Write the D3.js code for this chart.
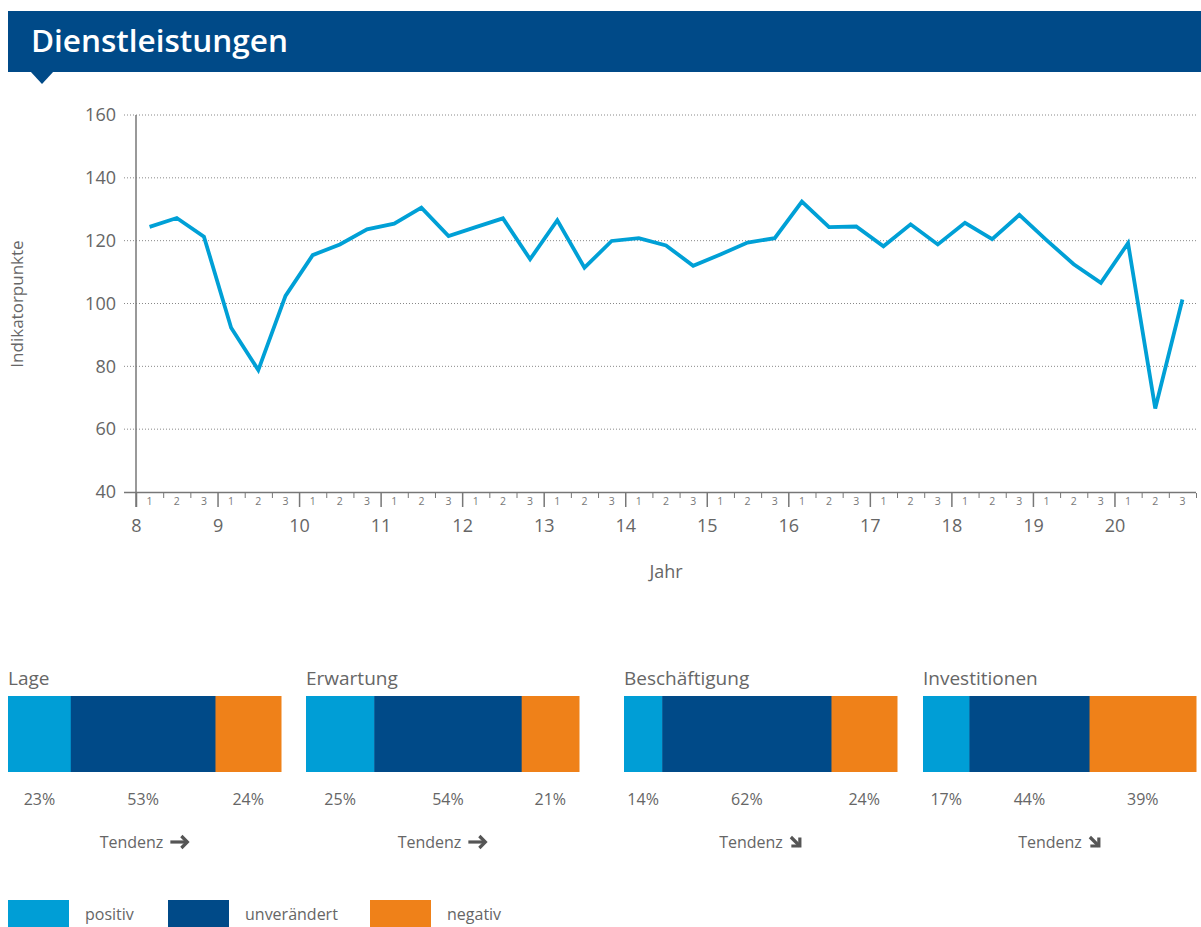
<!DOCTYPE html>
<html>
<head>
<meta charset="utf-8">
<script src="https://cdn.jsdelivr.net/npm/d3@7"></script>
<style>
  body { margin: 0; background: #fff; }
  text { font-family: "Open Sans", sans-serif; fill: #666; }
</style>
</head>
<body>
<div id="chart"></div>
<script>
// Werte
var years = [8, 9, 10, 11, 12, 13, 14, 15, 16, 17, 18, 19, 20];
var periods = ["1", "2", "3"];
var yTicks = [40, 60, 80, 100, 120, 140, 160];
var indexValues = [
  124.4, 127.2, 121.3,
  92.3, 78.8, 102.4,
  115.4, 118.8, 123.6,
  125.4, 130.5, 121.5,
  124.3, 127.1, 114.1,
  126.5, 111.4, 119.9,
  120.8, 118.5, 112.0,
  115.6, 119.4, 120.8,
  132.4, 124.3, 124.5,
  118.2, 125.2, 118.8,
  125.7, 120.5, 128.2,
  120.2, 112.5, 106.6,
  119.2, 66.6, 101.3
];
var surveyNames = ["Lage", "Erwartung", "Beschäftigung", "Investitionen"];
var positive = [23, 25, 14, 17];
var unchanged = [53, 54, 62, 44];
var negative = [24, 21, 24, 39];
var trend = ["right", "right", "down", "down"];
var legendLabels = ["positiv", "unverändert", "negativ"];

var colPos = "#009ed6", colNeu = "#004a88", colNeg = "#ef8119", lineCol = "#00a0d6";

var svg = d3.select("#chart").append("svg").attr("width", 1201).attr("height", 927);

// Kopfzeile
svg.append("rect").attr("x", 8).attr("y", 11).attr("width", 1193).attr("height", 61).attr("fill", "#004a88");
svg.append("path").attr("d", "M30,71L54,71L42,84Z").attr("fill", "#004a88");
svg.append("text").attr("x", 31).attr("y", 52).style("fill", "#fff").style("font-size", "31.5px")
  .style("font-weight", 600).style("font-family", "'Open Sans', sans-serif").text("Dienstleistungen");

// Linienchart
var x = d3.scaleLinear().domain([8, 21]).range([136, 1196]);
var y = d3.scaleLinear().domain([40, 160]).range([492, 115]);

var points = indexValues.map(function(v, i) {
  return { t: years[0] + (i + 0.5) / 3, v: v };
});

svg.append("g").selectAll("line").data(yTicks.slice(1)).join("line")
  .attr("x1", 124).attr("x2", 1196)
  .attr("y1", function(d) { return y(d); }).attr("y2", function(d) { return y(d); })
  .attr("stroke", "#888").attr("stroke-width", 1).attr("stroke-dasharray", "1,2");

var yAxis = svg.append("g").attr("transform", "translate(124,0)")
  .call(d3.axisLeft(y).tickValues(yTicks).tickSize(0).tickPadding(8));
yAxis.select(".domain").remove();
yAxis.selectAll("text").style("font-size", "18px").style("fill", "#666").style("font-family", "'Open Sans', sans-serif");

// Achsenlinien
svg.append("line").attr("x1", 136).attr("x2", 136).attr("y1", 115).attr("y2", 507).attr("stroke", "#777").attr("stroke-width", 1.5);
svg.append("line").attr("x1", 124).attr("x2", 1196).attr("y1", 492.5).attr("y2", 492.5).attr("stroke", "#777").attr("stroke-width", 1.5);

// Jahres-Ticks
var minorTicks = d3.range(0, 39 + 1).map(function(i) { return years[0] + i / 3; })
  .filter(function(d, i) { return i % 3 !== 0 || i === 39; });

var xMajor = svg.append("g").attr("transform", "translate(0,493)")
  .call(d3.axisBottom(x).tickValues(years).tickSize(14).tickPadding(12).tickFormat(d3.format("d")));
xMajor.select(".domain").remove();
xMajor.selectAll("line").attr("stroke", "#777").attr("stroke-width", 1.5);
xMajor.selectAll("text").style("font-size", "18px").style("fill", "#666").style("font-family", "'Open Sans', sans-serif");

var xMinor = svg.append("g").attr("transform", "translate(0,493)")
  .call(d3.axisBottom(x).tickValues(minorTicks).tickSize(5).tickFormat(""));
xMinor.select(".domain").remove();
xMinor.selectAll("line").attr("stroke", "#777").attr("stroke-width", 1);

// Quartals-Beschriftung
var periodLabels = indexValues.map(function(v, i) { return { t: years[0] + (i + 0.5) / 3, label: periods[i % 3] }; });
svg.append("g").selectAll("text").data(periodLabels).join("text")
  .attr("x", function(d) { return x(d.t); }).attr("y", 505)
  .attr("text-anchor", "middle").style("font-size", "10.5px").style("fill", "#777")
  .text(function(d) { return d.label; });

svg.append("text").attr("x", 666).attr("y", 578).attr("text-anchor", "middle").style("font-size", "18px").text("Jahr");
svg.append("text").attr("transform", "translate(23,304) rotate(-90)").attr("text-anchor", "middle")
  .style("font-size", "17px").text("Indikatorpunkte");

var line = d3.line().x(function(d) { return x(d.t); }).y(function(d) { return y(d.v); });
svg.append("path").datum(points).attr("d", line).attr("fill", "none")
  .attr("stroke", lineCol).attr("stroke-width", 3.8).attr("stroke-linejoin", "miter");

// Umfrage-Balken
var panelX = [8, 306, 624, 923];
var panelW = 273;

surveyNames.forEach(function(name, k) {
  var g = svg.append("g").attr("transform", "translate(" + panelX[k] + ",0)");
  var bx = d3.scaleLinear().domain([0, 100]).range([0, panelW]);
  var segs = [
    { v: positive[k], s: 0, c: colPos },
    { v: unchanged[k], s: positive[k], c: colNeu },
    { v: negative[k], s: positive[k] + unchanged[k], c: colNeg }
  ];
  g.append("text").attr("x", 0).attr("y", 685).style("font-size", "19px").text(name);
  g.selectAll("rect").data(segs).join("rect")
    .attr("x", function(d) { return bx(d.s); }).attr("y", 696)
    .attr("width", function(d) { return bx(d.v) + 0.5; }).attr("height", 76)
    .attr("fill", function(d) { return d.c; });
  g.selectAll("text.pct").data(segs).join("text").attr("class", "pct")
    .attr("x", function(d) { return bx(d.s + d.v / 2); }).attr("y", 805)
    .attr("text-anchor", "middle").style("font-size", "16px")
    .text(function(d) { return d.v + "%"; });

  // Tendenz mit Pfeil
  var tx = g.append("text").attr("y", 848).style("font-size", "16px").text("Tendenz");
  var tw = tx.node().getComputedTextLength();
  var aw = trend[k] === "right" ? 19 : 12;
  var x0 = panelW / 2 - (tw + 7 + aw) / 2;
  tx.attr("x", x0);
  var ax = x0 + tw + 7;
  var arrow = g.append("g").attr("transform", "translate(" + ax + ",0)")
    .attr("fill", "none").attr("stroke", "#555").attr("stroke-width", 3.2).attr("stroke-linejoin", "miter");
  if (trend[k] === "right") {
    arrow.append("path").attr("d", "M0,842H17");
    arrow.append("path").attr("d", "M11,836L17,842L11,848");
  } else {
    arrow.append("path").attr("d", "M1,837L10,846");
    arrow.append("path").attr("d", "M10,837.5V846H1.5");
  }
});

// Legende
var legendX = [8, 168, 370];
var legendCol = [colPos, colNeu, colNeg];
var lg = svg.append("g").selectAll("g").data(legendLabels).join("g")
  .attr("transform", function(d, i) { return "translate(" + legendX[i] + ",900)"; });
lg.append("rect").attr("width", 61).attr("height", 27).attr("fill", function(d, i) { return legendCol[i]; });
lg.append("text").attr("x", 77).attr("y", 20).style("font-size", "16px").text(function(d) { return d; });
</script>
</body>
</html>
